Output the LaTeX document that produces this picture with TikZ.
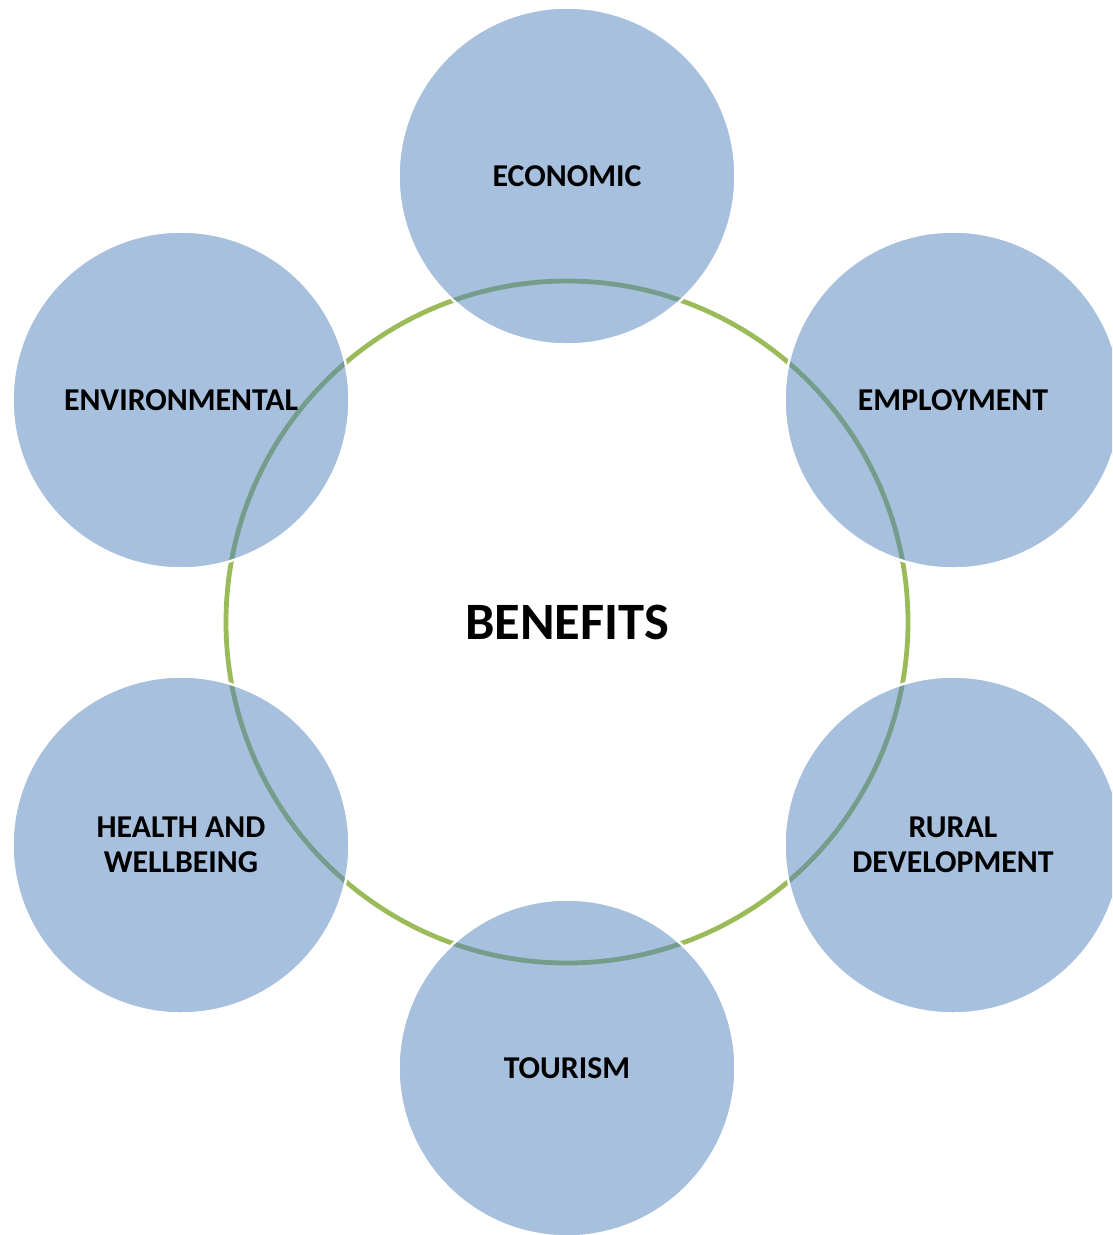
\documentclass[tikz,border=0pt]{standalone}
\usepackage{fontspec}
\setmainfont{Carlito}
\definecolor{satblue}{HTML}{4F81BD}
\definecolor{ringgreen}{HTML}{9BBB59}
\begin{document}
\begin{tikzpicture}[x=1pt,y=-1pt,
  sat/.style={circle, minimum size=337pt, inner sep=0pt, fill=satblue, fill opacity=0.5,
    text opacity=1, draw=white, draw opacity=1, line width=2.5pt,
    font=\fontsize{31.8}{35}\selectfont\bfseries, align=center},
  hub/.style={circle, minimum size=682pt, inner sep=0pt, draw=ringgreen, line width=4.8pt,
    font=\fontsize{52.5}{60}\selectfont\bfseries}]
\useasboundingbox (0,0) rectangle (1112,1235);
\clip (0,0) rectangle (1112,1235);
\node[hub] (benefits) at (567,622) {BENEFITS};
\node[sat] (economic) at (567,176) {ECONOMIC};
\node[sat] (employment) at (953,400) {EMPLOYMENT};
\node[sat] (rural) at (953,845) {RURAL\\DEVELOPMENT};
\node[sat] (tourism) at (567,1068) {TOURISM};
\node[sat] (health) at (181,845) {HEALTH AND\\WELLBEING};
\node[sat] (environmental) at (181,400) {ENVIRONMENTAL};
\end{tikzpicture}
\end{document}
